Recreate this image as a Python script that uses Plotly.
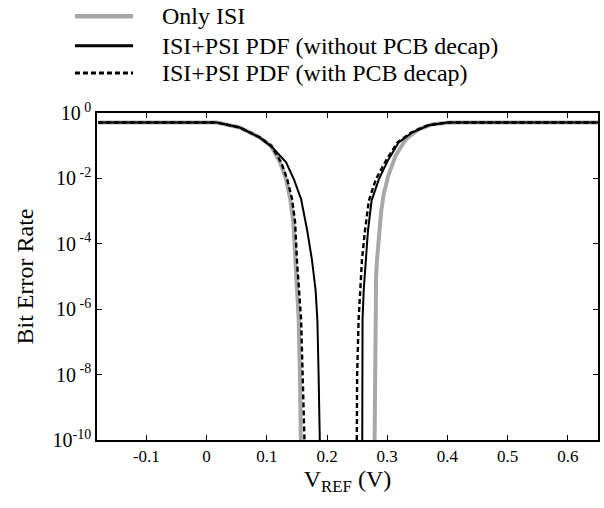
import plotly.graph_objects as go

# Bit error rate versus reference voltage (log scale), read per curve branch.
# Left branch runs from the low-voltage plateau down to 1e-10; right branch from 1e-10 back up.
series_names = [
    "Only ISI",
    "ISI+PSI PDF (without PCB decap)",
    "ISI+PSI PDF (with PCB decap)",
]

# Only ISI
isi_left_v = [-0.18, 0.017, 0.055, 0.088, 0.107, 0.122, 0.132, 0.139, 0.144, 0.148, 0.153, 0.155, 0.1565]
isi_left_ber = [0.51, 0.51, 0.36, 0.18, 0.10, 0.031, 9.3e-3, 2.3e-3, 4.6e-4, 3.2e-5, 4.6e-7, 1e-8, 1e-10]
isi_right_v = [0.279, 0.2795, 0.2805, 0.2815, 0.283, 0.287, 0.290, 0.294, 0.302, 0.314, 0.331, 0.352, 0.375, 0.405, 0.65]
isi_right_ber = [1e-10, 1e-8, 5e-7, 1e-5, 3.2e-5, 2.5e-4, 1e-3, 3.2e-3, 0.0126, 0.05, 0.158, 0.316, 0.45, 0.51, 0.51]

# ISI+PSI, without PCB decap
nodecap_left_v = [-0.18, 0.017, 0.055, 0.088, 0.109, 0.132, 0.145, 0.157, 0.167, 0.175, 0.181, 0.184, 0.186, 0.188]
nodecap_left_ber = [0.51, 0.51, 0.36, 0.18, 0.089, 0.031, 9.3e-3, 2.3e-3, 2.6e-4, 3.2e-5, 3.8e-6, 4.6e-7, 1e-8, 1e-10]
nodecap_right_v = [0.2585, 0.2585, 0.259, 0.261, 0.264, 0.268, 0.274, 0.286, 0.302, 0.319, 0.341, 0.369, 0.40, 0.65]
nodecap_right_ber = [1e-10, 1e-8, 5e-7, 4e-6, 3.2e-5, 2.5e-4, 2.1e-3, 9.3e-3, 0.038, 0.126, 0.25, 0.42, 0.51, 0.51]

# ISI+PSI, with PCB decap
decap_left_v = [-0.18, 0.017, 0.055, 0.088, 0.107, 0.124, 0.134, 0.142, 0.147, 0.150, 0.157, 0.160, 0.1625]
decap_left_ber = [0.51, 0.51, 0.36, 0.18, 0.10, 0.031, 9.3e-3, 2.3e-3, 4.6e-4, 3.2e-5, 4.6e-7, 1e-8, 1e-10]
decap_right_v = [0.2495, 0.250, 0.2525, 0.255, 0.258, 0.263, 0.2695, 0.281, 0.299, 0.317, 0.339, 0.367, 0.40, 0.65]
decap_right_ber = [1e-10, 1e-8, 5e-7, 4e-6, 3.2e-5, 2.5e-4, 2.1e-3, 9.3e-3, 0.038, 0.126, 0.25, 0.42, 0.51, 0.51]

x_tick_vals = [-0.1, 0, 0.1, 0.2, 0.3, 0.4, 0.5, 0.6]
x_tick_text = ["-0.1", "0", "0.1", "0.2", "0.3", "0.4", "0.5", "0.6"]
y_tick_vals = [1, 1e-2, 1e-4, 1e-6, 1e-8, 1e-10]
y_tick_text = ["10<sup> 0</sup>", "10<sup> -2</sup>", "10<sup> -4</sup>",
               "10<sup> -6</sup>", "10<sup> -8</sup>", "10<sup>-10</sup>"]

FONT = "Liberation Serif, Times New Roman, serif"

styles = [
    dict(color="#a8a8a8", width=4, dash="solid"),
    dict(color="black", width=2, dash="solid"),
    dict(color="black", width=2.4, dash="5px,3px"),
]
legend_widths = [4.5, 3, 3]

curves = [
    (isi_left_v + [None] + isi_right_v, isi_left_ber + [None] + isi_right_ber),
    (nodecap_left_v + [None] + nodecap_right_v, nodecap_left_ber + [None] + nodecap_right_ber),
    (decap_left_v + [None] + decap_right_v, decap_left_ber + [None] + decap_right_ber),
]

fig = go.Figure()
for name, (xs, ys), st in zip(series_names, curves, styles):
    fig.add_trace(go.Scatter(x=xs, y=ys, mode="lines", name=name, line=st,
                             connectgaps=False, showlegend=False))

# Legend drawn above the plot: line sample + label per series
legend_rows_y = [1.296, 1.2055, 1.1225]
for name, st, lw, ly in zip(series_names, styles, legend_widths, legend_rows_y):
    fig.add_shape(type="line", xref="paper", yref="paper",
                  x0=-0.044, x1=0.072, y0=ly, y1=ly,
                  line=dict(color=st["color"], width=lw, dash=st["dash"]))
    fig.add_annotation(xref="paper", yref="paper", x=0.125, y=ly, text=name,
                       showarrow=False, xanchor="left", yanchor="middle",
                       font=dict(family=FONT, size=24, color="black"))

fig.update_layout(
    width=604, height=508,
    margin=dict(l=97, r=4, t=113, b=68),
    paper_bgcolor="white", plot_bgcolor="white",
    font=dict(family=FONT, color="black"),
    showlegend=False,
)
fig.update_xaxes(
    range=[-0.182, 0.65],
    tickvals=x_tick_vals, ticktext=x_tick_text,
    tickfont=dict(size=17),
    ticks="inside", ticklen=5, tickwidth=1, tickcolor="black",
    showline=True, linecolor="black", linewidth=1.5, mirror="allticks",
    showgrid=False, zeroline=False,
    title=dict(text="V<sub>REF</sub> (V)", font=dict(size=24), standoff=5),
)
fig.update_yaxes(
    type="log", range=[-10, 0],
    tickvals=y_tick_vals, ticktext=y_tick_text,
    tickfont=dict(size=20),
    ticks="inside", ticklen=5, tickwidth=1, tickcolor="black",
    showline=True, linecolor="black", linewidth=1.5, mirror="allticks",
    showgrid=False, zeroline=False,
    title=dict(text="Bit Error Rate", font=dict(size=24), standoff=12),
)

fig.write_html("out.html")
